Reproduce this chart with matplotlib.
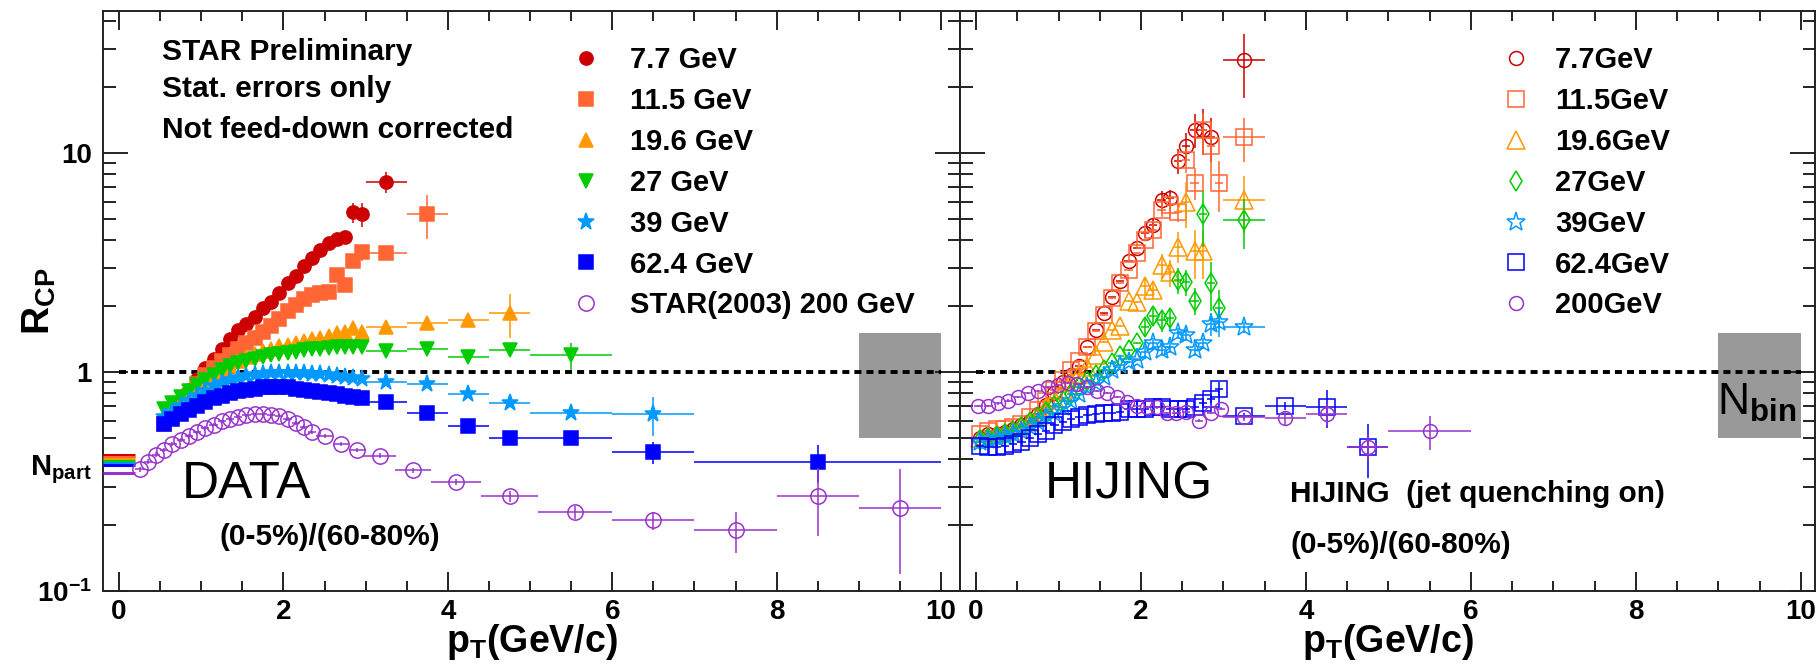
import matplotlib
matplotlib.use('Agg')
import matplotlib.pyplot as plt
from matplotlib.lines import Line2D
from matplotlib.ticker import MultipleLocator, LogLocator, NullFormatter

plt.rcParams['font.family'] = ['Liberation Sans', 'DejaVu Sans']
plt.rcParams['font.weight'] = 'bold'
plt.rcParams['mathtext.fontset'] = 'custom'
plt.rcParams['mathtext.rm'] = 'Liberation Sans:bold'
plt.rcParams['mathtext.sf'] = 'Liberation Sans'
plt.rcParams['mathtext.default'] = 'rm'

# ---- DATA panel: STAR Lambda R_CP, (0-5%)/(60-80%) ----
dense_pt = [0.55, 0.65, 0.75, 0.85, 0.95, 1.05, 1.15, 1.25, 1.35, 1.45, 1.55, 1.65, 1.75,
            1.85, 1.95, 2.05, 2.15, 2.25, 2.35, 2.45, 2.55, 2.65, 2.75, 2.85, 2.95]

d77_x = dense_pt + [3.25]
d77_y = [0.60, 0.66, 0.74, 0.83, 0.93, 1.04, 1.15, 1.28, 1.42, 1.55, 1.65, 1.78, 1.95,
         2.08, 2.30, 2.55, 2.75, 3.05, 3.30, 3.60, 3.90, 4.05, 4.15, 5.35, 5.25, 7.35]
d77_ex = [0.05] * 25 + [0.25]
d77_ey = [0.01] * 10 + [0.02] * 5 + [0.04] * 5 + [0.08, 0.1, 0.12, 0.55, 0.65, 0.8]

d115_x = dense_pt + [3.25, 3.75]
d115_y = [0.58, 0.63, 0.70, 0.78, 0.88, 0.97, 1.04, 1.12, 1.20, 1.27, 1.35, 1.43, 1.52,
          1.62, 1.75, 1.90, 2.03, 2.15, 2.24, 2.30, 2.33, 2.76, 2.50, 3.22, 3.52, 3.48, 5.25]
d115_ex = [0.05] * 25 + [0.25, 0.25]
d115_ey = [0.01] * 15 + [0.03] * 5 + [0.05, 0.12, 0.1, 0.2, 0.3, 0.15, 1.2]

d196_x = dense_pt + [3.25, 3.75, 4.25, 4.75]
d196_y = [0.62, 0.68, 0.74, 0.80, 0.86, 0.92, 0.97, 1.02, 1.07, 1.12, 1.17, 1.21, 1.25,
          1.28, 1.31, 1.33, 1.36, 1.39, 1.41, 1.43, 1.46, 1.50, 1.52, 1.58, 1.53,
          1.60, 1.67, 1.73, 1.85]
d196_ex = [0.05] * 25 + [0.25] * 4
d196_ey = [0.01] * 20 + [0.03] * 5 + [0.05, 0.06, 0.1, 0.42]

d27_x = dense_pt + [3.25, 3.75, 4.25, 4.75, 5.5]
d27_y = [0.68, 0.72, 0.77, 0.82, 0.87, 0.92, 0.97, 1.02, 1.06, 1.10, 1.12, 1.15, 1.17,
         1.19, 1.21, 1.22, 1.24, 1.26, 1.27, 1.28, 1.29, 1.30, 1.30, 1.30, 1.30,
         1.25, 1.28, 1.17, 1.26, 1.19]
d27_ex = [0.05] * 25 + [0.25] * 4 + [0.5]
d27_ey = [0.01] * 25 + [0.03, 0.04, 0.05, 0.06, 0.17]

d39_x = dense_pt + [3.25, 3.75, 4.25, 4.75, 5.5, 6.5]
d39_y = [0.62, 0.66, 0.70, 0.74, 0.78, 0.82, 0.86, 0.89, 0.92, 0.94, 0.96, 0.97, 0.98,
         0.99, 0.99, 0.99, 0.99, 0.99, 0.98, 0.98, 0.97, 0.96, 0.95, 0.94, 0.93,
         0.90, 0.88, 0.79, 0.72, 0.65, 0.64]
d39_ex = [0.05] * 25 + [0.25] * 4 + [0.5, 0.5]
d39_ey = [0.01] * 25 + [0.02, 0.03, 0.03, 0.03, 0.03, 0.13]

d624_x = dense_pt + [3.25, 3.75, 4.25, 4.75, 5.5, 6.5, 8.5]
d624_y = [0.58, 0.61, 0.64, 0.67, 0.70, 0.73, 0.76, 0.78, 0.80, 0.82, 0.83, 0.84, 0.85,
          0.85, 0.85, 0.85, 0.84, 0.83, 0.82, 0.81, 0.80, 0.79, 0.78, 0.77, 0.76,
          0.73, 0.65, 0.565, 0.50, 0.50, 0.43, 0.387]
d624_ex = [0.05] * 25 + [0.25] * 4 + [0.5, 0.5, 1.5]
d624_ey = [0.01] * 25 + [0.01, 0.02, 0.02, 0.02, 0.02, 0.05, 0.076]

d200_x = [0.25, 0.35, 0.45, 0.55, 0.65, 0.75, 0.85, 0.95, 1.05, 1.15, 1.25, 1.35, 1.45,
          1.55, 1.65, 1.75, 1.85, 1.95, 2.05, 2.15, 2.25, 2.35,
          2.5, 2.7, 2.9, 3.17, 3.58, 4.1, 4.75, 5.55, 6.5, 7.5, 8.5, 9.5]
d200_y = [0.36, 0.39, 0.42, 0.44, 0.47, 0.49, 0.51, 0.53, 0.555, 0.575, 0.595, 0.61, 0.625,
          0.635, 0.64, 0.64, 0.635, 0.63, 0.61, 0.585, 0.56, 0.53,
          0.51, 0.47, 0.44, 0.415, 0.356, 0.314, 0.271, 0.229, 0.21, 0.189, 0.271, 0.239]
d200_ex = [0.05] * 22 + [0.1, 0.1, 0.1, 0.2, 0.22, 0.3, 0.35, 0.45, 0.5, 0.5, 0.5, 0.5]
d200_ey = [0.01] * 25 + [0.01, 0.01, 0.01, 0.015, 0.015, 0.02, 0.04, 0.092, 0.12]

# N_part scaling levels drawn at the left edge
npart_y = [0.417, 0.41, 0.40, 0.394, 0.385, 0.375, 0.346]

# ---- HIJING panel ----
hij_pt = [0.05, 0.15, 0.25, 0.35, 0.45, 0.55, 0.65, 0.75, 0.85, 0.95, 1.05, 1.15, 1.25,
          1.35, 1.45, 1.55, 1.65, 1.75, 1.85, 1.95, 2.05, 2.15, 2.25, 2.35, 2.45, 2.55,
          2.65, 2.75, 2.85, 2.95]

h77_x = hij_pt[:29] + [3.25]
h77_y = [0.50, 0.52, 0.52, 0.53, 0.55, 0.57, 0.60, 0.64, 0.71, 0.80, 0.90, 0.97, 1.07,
         1.30, 1.55, 1.85, 2.20, 2.60, 3.20, 3.70, 4.30, 4.70, 6.10, 6.20, 9.20, 10.8,
         12.8, 12.8, 11.8, 26.5]
h77_ex = [0.05] * 29 + [0.25]
h77_ey = [0.01] * 20 + [0.2, 0.3, 0.6, 0.6, 1.2, 1.5, 2.3, 3.0, 2.7, 8.6]

h115_x = hij_pt + [3.25]
h115_y = [0.52, 0.54, 0.55, 0.55, 0.56, 0.58, 0.62, 0.67, 0.74, 0.83, 0.92, 1.02, 1.12,
          1.30, 1.54, 1.82, 2.17, 2.54, 2.91, 3.48, 3.99, 4.43, 5.50, 5.80, 5.35, 9.30,
          7.30, 12.8, 10.8, 7.30, 11.8]
h115_ex = [0.05] * 30 + [0.25]
h115_ey = [0.01] * 21 + [0.3, 0.4, 0.5, 0.5, 1.2, 1.2, 2.5, 2.8, 1.9, 2.7]

h196_x = hij_pt[:28] + [3.25]
h196_y = [0.50, 0.51, 0.52, 0.53, 0.54, 0.56, 0.59, 0.63, 0.69, 0.76, 0.83, 0.90, 0.98,
          1.05, 1.20, 1.37, 1.55, 1.63, 2.12, 2.08, 2.48, 2.36, 3.07, 2.85, 3.74, 5.95,
          3.55, 3.55, 6.08]
h196_ex = [0.05] * 28 + [0.25]
h196_ey = [0.01] * 20 + [0.2, 0.2, 0.4, 0.4, 0.6, 1.4, 0.9, 0.9, 1.75]

h27_x = hij_pt + [3.25]
h27_y = [0.49, 0.50, 0.51, 0.52, 0.54, 0.56, 0.59, 0.62, 0.66, 0.70, 0.74, 0.79, 0.85,
         0.91, 0.97, 1.02, 1.10, 1.18, 1.26, 1.35, 1.60, 1.80, 1.72, 1.76, 2.62, 2.57,
         2.12, 5.24, 2.54, 1.97, 4.92]
h27_ex = [0.05] * 30 + [0.25]
h27_ey = [0.01] * 20 + [0.15, 0.15, 0.2, 0.2, 0.35, 0.35, 0.3, 1.5, 0.65, 0.4, 1.27]

h39_x = hij_pt + [3.25]
h39_y = [0.48, 0.49, 0.50, 0.51, 0.52, 0.54, 0.56, 0.59, 0.62, 0.65, 0.69, 0.74, 0.79,
         0.85, 0.89, 0.95, 1.02, 1.08, 1.11, 1.13, 1.23, 1.35, 1.26, 1.30, 1.50, 1.47,
         1.26, 1.35, 1.66, 1.69, 1.60]
h39_ex = [0.05] * 30 + [0.25]
h39_ey = [0.01] * 20 + [0.08] * 8 + [0.2, 0.25, 0.1]

h624_x = hij_pt + [3.25, 3.75, 4.25, 4.75]
h624_y = [0.46, 0.455, 0.455, 0.46, 0.47, 0.48, 0.50, 0.52, 0.54, 0.57, 0.59, 0.61, 0.625,
          0.635, 0.645, 0.65, 0.65, 0.66, 0.68, 0.68, 0.68, 0.69, 0.69, 0.68, 0.68, 0.68,
          0.69, 0.72, 0.75, 0.84, 0.63, 0.70, 0.69, 0.454]
h624_ex = [0.05] * 30 + [0.25] * 4
h624_ey = [0.005] * 27 + [0.02, 0.03, 0.06, 0.02, 0.03, 0.136, 0.125]

h200_x = [0.03, 0.15, 0.27, 0.39, 0.51, 0.63, 0.75, 0.87, 0.99, 1.11, 1.23, 1.35, 1.47,
          1.59, 1.71, 1.83, 1.95, 2.07, 2.19, 2.31, 2.43, 2.55, 2.70, 2.85, 2.97,
          3.25, 3.75, 4.25, 4.75, 5.5]
h200_y = [0.70, 0.70, 0.72, 0.74, 0.77, 0.80, 0.82, 0.85, 0.87, 0.89, 0.88, 0.85, 0.82,
          0.80, 0.77, 0.73, 0.70, 0.69, 0.69, 0.65, 0.65, 0.66, 0.60, 0.65, 0.68,
          0.62, 0.615, 0.645, 0.454, 0.537]
h200_ex = [0.05] * 25 + [0.25, 0.25, 0.25, 0.25, 0.5]
h200_ey = [0.01] * 25 + [0.02, 0.05, 0.07, 0.06, 0.095]

colors = ['#CC0000', '#FF6633', '#FF9900', '#00CC00', '#0099FF', '#0000FF', '#9933CC']
data_labels = ['7.7 GeV', '11.5 GeV', '19.6 GeV', '27 GeV', '39 GeV', '62.4 GeV',
               'STAR(2003) 200 GeV']
hij_labels = ['7.7GeV', '11.5GeV', '19.6GeV', '27GeV', '39GeV', '62.4GeV', '200GeV']

x_ticks = [0, 2, 4, 6, 8, 10]
y_ticks = [0.1, 1, 10]
y_ticklabels = ['10$^{-1}$', '1', '10']

unity_x = [0, 10]
nbin_x = [9, 10]
nbin_lo, nbin_hi = 0.5, 1.5

fig = plt.figure(figsize=(18.18, 6.66), dpi=100)
ax1 = fig.add_axes([103 / 1818, 75 / 666, 857 / 1818, 580 / 666])
ax2 = fig.add_axes([960 / 1818, 75 / 666, 855 / 1818, 580 / 666])


def style(ax, xlim, ylabels):
    ax.set_yscale('log')
    ax.set_xticks(x_ticks, labels=[str(t) for t in x_ticks], fontweight='bold')
    ax.xaxis.set_minor_locator(MultipleLocator(0.5))
    ax.set_yticks(y_ticks, labels=y_ticklabels if ylabels else ['', '', ''],
                  fontweight='bold')
    ax.yaxis.set_minor_locator(LogLocator(base=10, subs=[2, 3, 4, 5, 6, 7, 8, 9]))
    ax.yaxis.set_minor_formatter(NullFormatter())
    ax.set_xlim(*xlim)
    ax.set_ylim(0.1, 44.5)
    ax.tick_params(which='both', direction='in', top=True, right=True,
                   width=1.4, color='#222222')
    ax.tick_params(axis='x', which='major', length=14, labelsize=20, pad=6)
    ax.tick_params(axis='x', which='minor', length=7)
    ax.tick_params(axis='y', which='major', length=18, labelsize=20, pad=8)
    ax.tick_params(axis='y', which='minor', length=9)
    for s in ax.spines.values():
        s.set_linewidth(1.4)
        s.set_color('#222222')
    ax.set_xlabel('p$_{T}$(GeV/c)', fontsize=27, fontweight='bold')
    ax.xaxis.set_label_coords(0.5, -0.053)
    # reference line and N_bin uncertainty box
    ax.fill_between(nbin_x, nbin_lo, nbin_hi, color='#999999', lw=0, zorder=1)
    ax.plot(unity_x, [1, 1], color='black', lw=2.8, ls=(0, (1.8, 1.3)), zorder=2)


style(ax1, (-0.195, 10.23), True)
style(ax2, (-0.194, 10.17), False)

# DATA panel
data_sets = [
    (d77_x, d77_y, d77_ex, d77_ey, 'o', 9.5, True),
    (d115_x, d115_y, d115_ex, d115_ey, 's', 9.5, True),
    (d196_x, d196_y, d196_ex, d196_ey, '^', 10.5, True),
    (d27_x, d27_y, d27_ex, d27_ey, 'v', 10.5, True),
    (d39_x, d39_y, d39_ex, d39_ey, '*', 12.5, True),
    (d624_x, d624_y, d624_ex, d624_ey, 's', 9.5, True),
    (d200_x, d200_y, d200_ex, d200_ey, 'o', 11, False),
]
draw_order = [0, 1, 2, 4, 3, 5, 6]
for i in draw_order:
    x, y, ex, ey, m, ms, filled = data_sets[i]
    c = colors[i]
    ax1.errorbar(x, y, xerr=ex, yerr=ey, fmt=m, color=c, ms=ms,
                 mfc=c if filled else 'none', mec=c, mew=1.1,
                 elinewidth=1.1, capsize=0, zorder=3 + i)

ax1.hlines(npart_y, -0.2, 0.2, colors=colors, lw=2.2, zorder=3, clip_on=False)

h1 = [Line2D([], [], ls='none', marker=d[4], ms=d[5], color=colors[i],
             mfc=colors[i] if d[6] else 'none', mec=colors[i], mew=1.1)
      for i, d in enumerate(data_sets)]
ax1.legend(h1, data_labels, loc='upper left', bbox_to_anchor=(0.5466, 0.939),
           frameon=False, prop={'size': 21, 'weight': 'bold'}, handlelength=1.0,
           handletextpad=1.0, labelspacing=0.44, borderpad=0, borderaxespad=0)

# HIJING panel
hij_sets = [
    (h77_x, h77_y, h77_ex, h77_ey, 'o', 10),
    (h115_x, h115_y, h115_ex, h115_ey, 's', 11),
    (h196_x, h196_y, h196_ex, h196_ey, '^', 13),
    (h27_x, h27_y, h27_ex, h27_ey, 'd', 10.5),
    (h39_x, h39_y, h39_ex, h39_ey, '*', 14),
    (h624_x, h624_y, h624_ex, h624_ey, 's', 11),
    (h200_x, h200_y, h200_ex, h200_ey, 'o', 10),
]
for i, (x, y, ex, ey, m, ms) in enumerate(hij_sets):
    c = colors[i]
    ax2.errorbar(x, y, xerr=ex, yerr=ey, fmt=m, color=c, ms=ms, mfc='none',
                 mec=c, mew=1.1, elinewidth=1.1, capsize=0, zorder=3 + i)

h2 = [Line2D([], [], ls='none', marker=d[4], ms=d[5], mfc='none', mec=colors[i], mew=1.1)
      for i, d in enumerate(hij_sets)]
ax2.legend(h2, hij_labels, loc='upper left', bbox_to_anchor=(0.633, 0.939),
           frameon=False, prop={'size': 21, 'weight': 'bold'}, handlelength=1.0,
           handletextpad=0.84, labelspacing=0.44, borderpad=0, borderaxespad=0)

# axis titles and annotations
ax1.set_ylabel('R$_{CP}$', fontsize=28, fontweight='bold')
ax1.yaxis.set_label_coords(-0.053, 0.5)

ax1.text(-0.0128, 0.337, 'N$_{part}$', transform=ax1.get_yaxis_transform(),
         ha='right', va='baseline', fontsize=21)

ax1.text(0.0688, 0.9155, 'STAR Preliminary', transform=ax1.transAxes, fontsize=21.5)
ax1.text(0.0688, 0.852, 'Stat. errors only', transform=ax1.transAxes, fontsize=21.5)
ax1.text(0.0688, 0.781, 'Not feed-down corrected', transform=ax1.transAxes, fontsize=21.5)
ax1.text(0.0922, 0.160, 'DATA', transform=ax1.transAxes, fontsize=37, fontweight='normal')
ax1.text(0.1365, 0.079, '(0-5%)/(60-80%)', transform=ax1.transAxes, fontsize=21.5)

ax2.text(0.0994, 0.160, 'HIJING', transform=ax2.transAxes, fontsize=37, fontweight='normal')
ax2.text(0.386, 0.153, 'HIJING  (jet quenching on)', transform=ax2.transAxes, fontsize=21.5)
ax2.text(0.386, 0.0655, '(0-5%)/(60-80%)', transform=ax2.transAxes, fontsize=21.5)
ax2.text(0.885, 0.303, r'N$_{\mathsf{bin}}$', transform=ax2.transAxes, fontsize=32,
         fontweight='normal', zorder=5)

fig.savefig('out.png', dpi=100)
